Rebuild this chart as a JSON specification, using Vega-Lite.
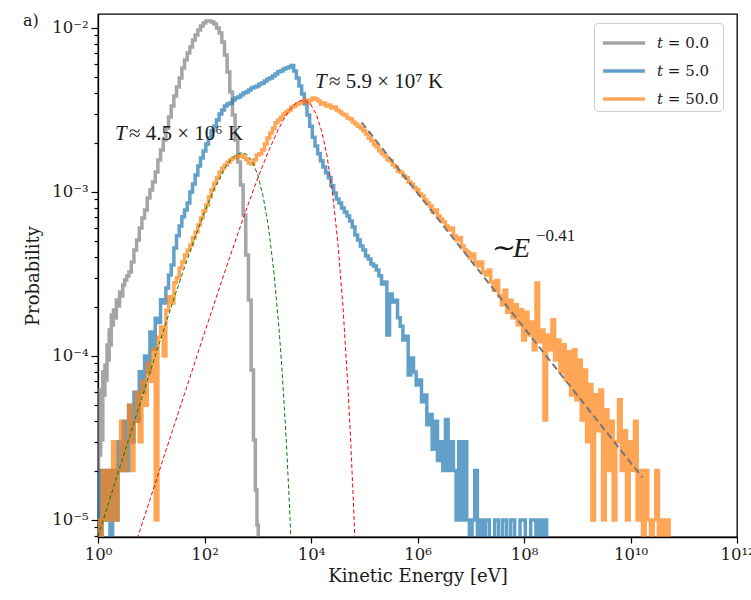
{
  "$schema": "https://vega.github.io/schema/vega-lite/v6.json",
  "width": 639,
  "height": 523,
  "autosize": "none",
  "padding": {"left": 98, "top": 14, "right": 14, "bottom": 63},
  "background": "white",
  "title": {"text": "a)", "anchor": "start", "frame": "group", "dx": -75, "dy": 28, "offset": 0, "baseline": "alphabetic", "font": "DejaVu Serif", "fontSize": 16, "fontWeight": "normal", "color": "#1a1a1a"},
  "datasets": {
    "t0": [{"E":1,"P":8.69e-6},{"E":1.047,"P":6.21e-5},{"E":1.096,"P":2.49e-5},{"E":1.148,"P":5.4e-5},{"E":1.202,"P":3.08e-5},{"E":1.259,"P":7.98e-5},{"E":1.318,"P":5.78e-5},{"E":1.38,"P":8.81e-5},{"E":1.445,"P":7.14e-5},{"E":1.514,"P":1.167e-4},{"E":1.585,"P":9.46e-5},{"E":1.66,"P":1.442e-4},{"E":1.738,"P":1.167e-4},{"E":1.82,"P":1.778e-4},{"E":1.905,"P":1.545e-4},{"E":1.995,"P":1.905e-4},{"E":2.138,"P":1.706e-4},{"E":2.291,"P":2.193e-4},{"E":2.455,"P":2.018e-4},{"E":2.63,"P":2.455e-4},{"E":2.818,"P":2.323e-4},{"E":3.02,"P":2.71e-4},{"E":3.311,"P":2.904e-4},{"E":3.631,"P":3.076e-4},{"E":3.981,"P":3.251e-4},{"E":4.467,"P":3.741e-4},{"E":5.012,"P":4.426e-4},{"E":5.623,"P":5.093e-4},{"E":6.31,"P":6.026e-4},{"E":7.079,"P":6.934e-4},{"E":7.943,"P":7.762e-4},{"E":8.913,"P":9.183e-4},{"E":10,"P":1.028e-3},{"E":11.22,"P":1.151e-3},{"E":12.59,"P":1.324e-3},{"E":14.13,"P":1.567e-3},{"E":15.85,"P":1.803e-3},{"E":17.78,"P":2.075e-3},{"E":19.95,"P":2.455e-3},{"E":22.39,"P":2.864e-3},{"E":25.12,"P":3.342e-3},{"E":28.18,"P":3.846e-3},{"E":31.62,"P":4.365e-3},{"E":35.48,"P":4.955e-3},{"E":39.81,"P":5.702e-3},{"E":44.67,"P":6.383e-3},{"E":50.12,"P":7.047e-3},{"E":56.23,"P":7.656e-3},{"E":63.1,"P":8.453e-3},{"E":70.79,"P":9.057e-3},{"E":79.43,"P":9.727e-3},{"E":89.13,"P":1.028e-2},{"E":100,"P":1.072e-2},{"E":112.2,"P":1.104e-2},{"E":125.9,"P":1.104e-2},{"E":141.3,"P":1.089e-2},{"E":158.5,"P":1.057e-2},{"E":177.8,"P":1.0e-2},{"E":199.5,"P":9.333e-3},{"E":223.9,"P":8.222e-3},{"E":251.2,"P":6.839e-3},{"E":281.8,"P":5.395e-3},{"E":316.2,"P":4.074e-3},{"E":354.8,"P":2.951e-3},{"E":398.1,"P":2.075e-3},{"E":446.7,"P":1.524e-3},{"E":501.2,"P":1.104e-3},{"E":562.3,"P":7.244e-4},{"E":631,"P":4.13e-4},{"E":707.9,"P":2.193e-4},{"E":794.3,"P":8.222e-5},{"E":871,"P":3.08e-5},{"E":933.3,"P":1.524e-5},{"E":1000,"P":9.33e-6},{"E":1047,"P":1e-6}],
    "t5": [{"E":1,"P":2e-5},{"E":1.122,"P":1e-6},{"E":1.259,"P":2e-5},{"E":1.413,"P":1e-5},{"E":1.585,"P":2e-5},{"E":1.778,"P":1e-6},{"E":1.995,"P":2e-5},{"E":2.239,"P":1e-5},{"E":2.512,"P":3e-5},{"E":2.818,"P":2e-5},{"E":3.162,"P":4e-5},{"E":3.548,"P":2e-5},{"E":3.981,"P":5e-5},{"E":4.467,"P":3e-5},{"E":5.012,"P":6e-5},{"E":5.623,"P":4e-5},{"E":6.31,"P":8e-5},{"E":7.079,"P":6e-5},{"E":7.943,"P":1e-4},{"E":8.913,"P":8e-5},{"E":10,"P":1.4e-4},{"E":11.22,"P":1.1e-4},{"E":12.59,"P":1.7e-4},{"E":14.13,"P":1.6e-4},{"E":15.85,"P":2.2e-4},{"E":17.78,"P":2.1e-4},{"E":19.95,"P":2.6e-4},{"E":22.39,"P":3.12e-4},{"E":25.12,"P":3.59e-4},{"E":28.18,"P":4.56e-4},{"E":31.62,"P":5.4e-4},{"E":35.48,"P":6.21e-4},{"E":39.81,"P":7.05e-4},{"E":44.67,"P":7.76e-4},{"E":50.12,"P":8.57e-4},{"E":56.23,"P":1e-3},{"E":63.1,"P":1.12e-3},{"E":70.79,"P":1.27e-3},{"E":79.43,"P":1.44e-3},{"E":89.13,"P":1.61e-3},{"E":100,"P":1.78e-3},{"E":112.2,"P":1.96e-3},{"E":125.9,"P":2.13e-3},{"E":141.3,"P":2.36e-3},{"E":158.5,"P":2.52e-3},{"E":177.8,"P":2.75e-3},{"E":199.5,"P":2.99e-3},{"E":223.9,"P":3.16e-3},{"E":251.2,"P":3.34e-3},{"E":281.8,"P":3.44e-3},{"E":316.2,"P":3.49e-3},{"E":354.8,"P":3.64e-3},{"E":398.1,"P":3.74e-3},{"E":446.7,"P":3.8e-3},{"E":501.2,"P":3.9e-3},{"E":562.3,"P":4.02e-3},{"E":631,"P":4.07e-3},{"E":707.9,"P":4.19e-3},{"E":794.3,"P":4.31e-3},{"E":891.3,"P":4.37e-3},{"E":1000,"P":4.43e-3},{"E":1122,"P":4.56e-3},{"E":1259,"P":4.62e-3},{"E":1413,"P":4.75e-3},{"E":1585,"P":4.89e-3},{"E":1778,"P":4.96e-3},{"E":1995,"P":5.1e-3},{"E":2239,"P":5.25e-3},{"E":2512,"P":5.4e-3},{"E":2818,"P":5.47e-3},{"E":3162,"P":5.62e-3},{"E":3548,"P":5.7e-3},{"E":3981,"P":5.78e-3},{"E":4467,"P":5.9e-3},{"E":5012,"P":5.47e-3},{"E":5623,"P":4.96e-3},{"E":6310,"P":4.43e-3},{"E":7079,"P":3.96e-3},{"E":7943,"P":3.44e-3},{"E":8913,"P":2.95e-3},{"E":10000,"P":2.52e-3},{"E":11220,"P":2.16e-3},{"E":12590,"P":1.91e-3},{"E":14130,"P":1.71e-3},{"E":15850,"P":1.55e-3},{"E":17780,"P":1.42e-3},{"E":19950,"P":1.31e-3},{"E":22390,"P":1.22e-3},{"E":25120,"P":1.09e-3},{"E":28180,"P":9.86e-4},{"E":31620,"P":9.06e-4},{"E":35480,"P":8.57e-4},{"E":39810,"P":7.98e-4},{"E":44670,"P":7.55e-4},{"E":50120,"P":7.14e-4},{"E":56230,"P":6.65e-4},{"E":63100,"P":6.12e-4},{"E":70790,"P":5.47e-4},{"E":79430,"P":5.1e-4},{"E":89130,"P":4.69e-4},{"E":100000,"P":4.43e-4},{"E":112200,"P":4.07e-4},{"E":125900,"P":3.9e-4},{"E":141300,"P":3.64e-4},{"E":158500,"P":3.54e-4},{"E":177800,"P":3.34e-4},{"E":199500,"P":3.08e-4},{"E":223900,"P":2.75e-4},{"E":251200,"P":2.82e-4},{"E":281800,"P":1.34e-4},{"E":316200,"P":2.39e-4},{"E":354800,"P":2.13e-4},{"E":398100,"P":2.19e-4},{"E":446700,"P":1.71e-4},{"E":501200,"P":1.52e-4},{"E":562300,"P":1.25e-4},{"E":631000,"P":1.32e-4},{"E":707900,"P":7.66e-5},{"E":794300,"P":9.73e-5},{"E":891300,"P":7.98e-5},{"E":1e6,"P":6.65e-5},{"E":1.122e6,"P":7.14e-5},{"E":1.259e6,"P":5.25e-5},{"E":1.413e6,"P":5.78e-5},{"E":1.585e6,"P":3.8e-5},{"E":1.778e6,"P":4.4e-5},{"E":1.995e6,"P":2.7e-5},{"E":2.239e6,"P":4e-5},{"E":2.512e6,"P":2.3e-5},{"E":2.818e6,"P":3e-5},{"E":3.162e6,"P":2e-5},{"E":3.548e6,"P":4.1e-5},{"E":3.981e6,"P":2e-5},{"E":4.467e6,"P":3e-5},{"E":5.012e6,"P":2e-5},{"E":5.623e6,"P":1e-5},{"E":6.31e6,"P":3e-5},{"E":7.079e6,"P":1e-5},{"E":7.943e6,"P":3e-5},{"E":8.913e6,"P":1e-5},{"E":1e7,"P":1e-6},{"E":1.122e7,"P":1e-5},{"E":1.259e7,"P":2e-5},{"E":1.413e7,"P":1e-6},{"E":1.585e7,"P":1e-5},{"E":1.778e7,"P":1e-6},{"E":1.995e7,"P":1e-5},{"E":2.512e7,"P":1e-6},{"E":3.162e7,"P":1e-5},{"E":3.548e7,"P":1e-6},{"E":4.467e7,"P":1e-5},{"E":5.012e7,"P":1e-6},{"E":6.31e7,"P":1e-5},{"E":7.079e7,"P":1e-6},{"E":1e8,"P":1e-5},{"E":1.122e8,"P":1e-6},{"E":1.585e8,"P":1e-5},{"E":1.778e8,"P":1e-6},{"E":1.995e8,"P":1e-5},{"E":2.239e8,"P":1e-6},{"E":2.512e8,"P":1e-5},{"E":2.818e8,"P":1e-6}],
    "t50": [{"E":1,"P":1e-5},{"E":1.122,"P":1e-6},{"E":1.259,"P":2e-5},{"E":1.413,"P":1e-5},{"E":1.585,"P":2e-5},{"E":1.778,"P":1e-5},{"E":1.995,"P":3e-5},{"E":2.239,"P":1e-5},{"E":2.512,"P":2e-5},{"E":2.818,"P":4e-5},{"E":3.162,"P":2e-5},{"E":3.548,"P":3e-5},{"E":3.981,"P":5e-5},{"E":4.467,"P":2e-5},{"E":5.012,"P":4e-5},{"E":5.623,"P":6e-5},{"E":6.31,"P":3e-5},{"E":7.079,"P":7e-5},{"E":7.943,"P":5e-5},{"E":8.913,"P":9e-5},{"E":10,"P":7e-5},{"E":11.22,"P":1.1e-4},{"E":12.59,"P":1e-5},{"E":14.13,"P":1.3e-4},{"E":15.85,"P":1.5e-4},{"E":17.78,"P":1e-4},{"E":19.95,"P":1.9e-4},{"E":22.39,"P":2.3e-4},{"E":25.12,"P":2.1e-4},{"E":28.18,"P":2.8e-4},{"E":31.62,"P":3e-4},{"E":35.48,"P":3.44e-4},{"E":39.81,"P":3.74e-4},{"E":44.67,"P":4.13e-4},{"E":50.12,"P":4.43e-4},{"E":56.23,"P":4.75e-4},{"E":63.1,"P":5.25e-4},{"E":70.79,"P":5.7e-4},{"E":79.43,"P":6.29e-4},{"E":89.13,"P":6.93e-4},{"E":100,"P":7.66e-4},{"E":112.2,"P":8.33e-4},{"E":125.9,"P":9.33e-4},{"E":141.3,"P":1.03e-3},{"E":158.5,"P":1.13e-3},{"E":177.8,"P":1.22e-3},{"E":199.5,"P":1.32e-3},{"E":223.9,"P":1.4e-3},{"E":251.2,"P":1.46e-3},{"E":281.8,"P":1.52e-3},{"E":316.2,"P":1.57e-3},{"E":354.8,"P":1.61e-3},{"E":398.1,"P":1.63e-3},{"E":446.7,"P":1.66e-3},{"E":501.2,"P":1.68e-3},{"E":562.3,"P":1.63e-3},{"E":631,"P":1.57e-3},{"E":707.9,"P":1.5e-3},{"E":794.3,"P":1.48e-3},{"E":891.3,"P":1.57e-3},{"E":1000,"P":1.68e-3},{"E":1122,"P":1.71e-3},{"E":1259,"P":1.8e-3},{"E":1413,"P":1.96e-3},{"E":1585,"P":2.13e-3},{"E":1778,"P":2.29e-3},{"E":1995,"P":2.45e-3},{"E":2239,"P":2.64e-3},{"E":2512,"P":2.75e-3},{"E":2818,"P":2.86e-3},{"E":3162,"P":2.99e-3},{"E":3548,"P":3.08e-3},{"E":3981,"P":3.16e-3},{"E":4467,"P":3.3e-3},{"E":5012,"P":3.34e-3},{"E":5623,"P":3.44e-3},{"E":6310,"P":3.49e-3},{"E":7079,"P":3.54e-3},{"E":7943,"P":3.64e-3},{"E":8913,"P":3.49e-3},{"E":10000,"P":3.64e-3},{"E":11220,"P":3.74e-3},{"E":12590,"P":3.69e-3},{"E":14130,"P":3.59e-3},{"E":15850,"P":3.44e-3},{"E":17780,"P":3.49e-3},{"E":19950,"P":3.34e-3},{"E":22390,"P":3.39e-3},{"E":25120,"P":3.25e-3},{"E":28180,"P":3.3e-3},{"E":31620,"P":3.16e-3},{"E":35480,"P":3.08e-3},{"E":39810,"P":2.99e-3},{"E":44670,"P":2.95e-3},{"E":50120,"P":2.83e-3},{"E":56230,"P":2.79e-3},{"E":63100,"P":2.67e-3},{"E":70790,"P":2.6e-3},{"E":79430,"P":2.52e-3},{"E":89130,"P":2.45e-3},{"E":100000,"P":2.36e-3},{"E":112200,"P":2.26e-3},{"E":125900,"P":2.13e-3},{"E":141300,"P":2.05e-3},{"E":158500,"P":1.94e-3},{"E":177800,"P":1.88e-3},{"E":199500,"P":1.78e-3},{"E":223900,"P":1.71e-3},{"E":251200,"P":1.66e-3},{"E":281800,"P":1.57e-3},{"E":316200,"P":1.55e-3},{"E":354800,"P":1.46e-3},{"E":398100,"P":1.42e-3},{"E":446700,"P":1.34e-3},{"E":501200,"P":1.32e-3},{"E":562300,"P":1.25e-3},{"E":631000,"P":1.22e-3},{"E":707900,"P":1.15e-3},{"E":794300,"P":1.12e-3},{"E":891300,"P":1.06e-3},{"E":1e6,"P":1.03e-3},{"E":1.122e6,"P":9.73e-4},{"E":1.259e6,"P":9.46e-4},{"E":1.413e6,"P":8.93e-4},{"E":1.585e6,"P":8.57e-4},{"E":1.778e6,"P":8.22e-4},{"E":1.995e6,"P":7.55e-4},{"E":2.239e6,"P":7.76e-4},{"E":2.512e6,"P":7.14e-4},{"E":2.818e6,"P":6.84e-4},{"E":3.162e6,"P":6.56e-4},{"E":3.548e6,"P":6.21e-4},{"E":3.981e6,"P":5.86e-4},{"E":4.467e6,"P":6.03e-4},{"E":5.012e6,"P":5.4e-4},{"E":5.623e6,"P":5.1e-4},{"E":6.31e6,"P":5.25e-4},{"E":7.079e6,"P":4.69e-4},{"E":7.943e6,"P":4.43e-4},{"E":8.913e6,"P":4.31e-4},{"E":1e7,"P":3.96e-4},{"E":1.122e7,"P":4.19e-4},{"E":1.259e7,"P":3.74e-4},{"E":1.413e7,"P":3.54e-4},{"E":1.585e7,"P":3.74e-4},{"E":1.778e7,"P":3.25e-4},{"E":1.995e7,"P":3.12e-4},{"E":2.239e7,"P":3.34e-4},{"E":2.512e7,"P":2.82e-4},{"E":2.818e7,"P":2.52e-4},{"E":3.162e7,"P":2.89e-4},{"E":3.548e7,"P":2.32e-4},{"E":3.981e7,"P":2.05e-4},{"E":4.467e7,"P":2.52e-4},{"E":5.012e7,"P":1.85e-4},{"E":5.623e7,"P":2.19e-4},{"E":6.31e7,"P":1.71e-4},{"E":7.079e7,"P":2.05e-4},{"E":7.943e7,"P":1.55e-4},{"E":8.913e7,"P":1.91e-4},{"E":1e8,"P":1.25e-4},{"E":1.122e8,"P":1.85e-4},{"E":1.259e8,"P":1.34e-4},{"E":1.413e8,"P":1.61e-4},{"E":1.585e8,"P":1.09e-4},{"E":1.778e8,"P":2.79e-4},{"E":1.995e8,"P":1.22e-4},{"E":2.239e8,"P":1.44e-4},{"E":2.512e8,"P":4.07e-5},{"E":2.818e8,"P":1.34e-4},{"E":3.162e8,"P":1.09e-4},{"E":3.548e8,"P":1.66e-4},{"E":3.981e8,"P":9.46e-5},{"E":4.467e8,"P":1.25e-4},{"E":5.012e8,"P":7.98e-5},{"E":5.623e8,"P":1.17e-4},{"E":6.31e8,"P":7.14e-5},{"E":7.079e8,"P":1.06e-4},{"E":7.943e8,"P":5.78e-5},{"E":8.913e8,"P":1.09e-4},{"E":1e9,"P":5.4e-5},{"E":1.122e9,"P":9.46e-5},{"E":1.259e9,"P":4.07e-5},{"E":1.413e9,"P":8.2e-5},{"E":1.585e9,"P":3e-5},{"E":1.778e9,"P":6.7e-5},{"E":1.995e9,"P":1e-5},{"E":2.239e9,"P":5.8e-5},{"E":2.512e9,"P":3.5e-5},{"E":2.818e9,"P":6.2e-5},{"E":3.162e9,"P":1e-5},{"E":3.548e9,"P":4.7e-5},{"E":3.981e9,"P":2e-5},{"E":4.467e9,"P":4e-5},{"E":5.012e9,"P":1e-5},{"E":5.623e9,"P":3e-5},{"E":6.31e9,"P":5.4e-5},{"E":7.079e9,"P":2e-5},{"E":7.943e9,"P":3.5e-5},{"E":8.913e9,"P":1e-5},{"E":1e10,"P":3e-5},{"E":1.122e10,"P":2e-5},{"E":1.259e10,"P":4e-5},{"E":1.413e10,"P":1e-5},{"E":1.585e10,"P":2e-5},{"E":1.778e10,"P":1e-6},{"E":1.995e10,"P":2e-5},{"E":2.239e10,"P":1e-5},{"E":2.512e10,"P":1e-6},{"E":2.818e10,"P":1e-5},{"E":3.162e10,"P":2e-5},{"E":3.548e10,"P":1e-6},{"E":3.981e10,"P":1e-5},{"E":4.467e10,"P":1e-6},{"E":5.012e10,"P":1e-5},{"E":5.623e10,"P":1e-6}],
    "fitLow": [{"E":1,"P":7.92e-6},{"E":1.585,"P":1.274e-5},{"E":2.512,"P":2.046e-5},{"E":3.981,"P":3.281e-5},{"E":6.31,"P":5.26e-5},{"E":10,"P":8.395e-5},{"E":15.85,"P":1.334e-4},{"E":25.12,"P":2.109e-4},{"E":39.81,"P":3.289e-4},{"E":63.1,"P":5.047e-4},{"E":100,"P":7.516e-4},{"E":158.5,"P":1.074e-3},{"E":251.2,"P":1.426e-3},{"E":316.2,"P":1.581e-3},{"E":398.1,"P":1.694e-3},{"E":501.2,"P":1.738e-3},{"E":631,"P":1.69e-3},{"E":794.3,"P":1.531e-3},{"E":1000,"P":1.271e-3},{"E":1259,"P":9.441e-4},{"E":1585,"P":6.124e-4},{"E":1995,"P":3.334e-4},{"E":2512,"P":1.459e-4},{"E":2818,"P":8.75e-5},{"E":3162,"P":4.842e-5},{"E":3548,"P":2.466e-5},{"E":3981,"P":1.135e-5},{"E":4467,"P":4.7e-6}],
    "fitHigh": [{"E":5.012,"P":7.063e-6},{"E":6.31,"P":8.892e-6},{"E":10,"P":1.406e-5},{"E":15.85,"P":2.228e-5},{"E":25.12,"P":3.524e-5},{"E":39.81,"P":5.559e-5},{"E":63.1,"P":8.77e-5},{"E":100,"P":1.384e-4},{"E":158.5,"P":2.173e-4},{"E":251.2,"P":3.396e-4},{"E":398.1,"P":5.26e-4},{"E":631,"P":8.072e-4},{"E":1000,"P":1.213e-3},{"E":1585,"P":1.77e-3},{"E":2512,"P":2.455e-3},{"E":3162,"P":2.818e-3},{"E":3981,"P":3.162e-3},{"E":5012,"P":3.443e-3},{"E":6310,"P":3.606e-3},{"E":7943,"P":3.606e-3},{"E":10000,"P":3.396e-3},{"E":12590,"P":2.965e-3},{"E":15850,"P":2.36e-3},{"E":19950,"P":1.663e-3},{"E":25120,"P":1.012e-3},{"E":31620,"P":5.093e-4},{"E":39810,"P":2.018e-4},{"E":50120,"P":5.943e-5},{"E":56230,"P":2.818e-5},{"E":63100,"P":1.202e-5},{"E":70790,"P":4.56e-6}],
    "power": [{"E":89130,"P":2.661e-3},{"E":1.66e10,"P":1.82e-5}],
    "notes": [
      {"E":2.085,"P":2.075e-3,"kind":"temp","sym":"T","rest":"≈ 4.5 × 10⁶ K"},
      {"E":11885,"P":4.29e-3,"kind":"temp","sym":"T","rest":"≈ 5.9 × 10⁷ K"},
      {"E":2.301e7,"P":4.018e-4,"kind":"power","sym":"∼E","rest":"−0.41"}
    ]
  },
  "encoding": {
    "x": {"field": "E", "type": "quantitative", "scale": {"type": "log", "domain": [1, 1e12], "nice": false},
      "axis": {"values": [1, 100, 10000, 1000000, 100000000, 10000000000, 1000000000000], "labelExpr": "'10' + ['⁰','¹','²','³','⁴','⁵','⁶','⁷','⁸','⁹','¹⁰','¹¹','¹²'][round(log(datum.value)/LN10)]", "tickSize": 6, "labelPadding": 3, "labelFlush": false, "labelOverlap": false, "title": "Kinetic Energy [eV]", "titlePadding": 5}},
    "y": {"field": "P", "type": "quantitative", "scale": {"type": "log", "domain": [7.87e-6, 0.01217], "nice": false}, "axis": null}
  },
  "layer": [
    {
      "data": {"name": "t0"},
      "mark": {"type": "line", "interpolate": "step", "strokeWidth": 3.5, "opacity": 0.7, "clip": true},
      "encoding": {
        "y": {"field": "P", "type": "quantitative", "scale": {"type": "log", "domain": [7.87e-6, 0.01217], "nice": false},
          "axis": {"values": [0.00001, 0.0001, 0.001, 0.01], "labelExpr": "'10' + ['⁰','⁻¹','⁻²','⁻³','⁻⁴','⁻⁵','⁻⁶'][-round(log(datum.value)/LN10)]", "tickSize": 7, "labelPadding": 3, "title": "Probability", "titlePadding": 9}},
        "color": {"datum": "𝑡 = 0.0", "scale": {"domain": ["𝑡 = 0.0", "𝑡 = 5.0", "𝑡 = 50.0"], "range": ["#7f7f7f", "#1f77b4", "#ff7f0e"]}, "legend": {"title": null, "orient": "none", "legendX": 496, "legendY": 9}}
      }
    },
    {
      "data": {"name": "t5"},
      "mark": {"type": "line", "interpolate": "step", "strokeWidth": 3.5, "opacity": 0.7, "clip": true},
      "encoding": {
        "color": {"datum": "𝑡 = 5.0", "scale": {"domain": ["𝑡 = 0.0", "𝑡 = 5.0", "𝑡 = 50.0"], "range": ["#7f7f7f", "#1f77b4", "#ff7f0e"]}, "legend": {"title": null, "orient": "none", "legendX": 496, "legendY": 9}}
      }
    },
    {
      "data": {"name": "t50"},
      "mark": {"type": "line", "interpolate": "step", "strokeWidth": 3.5, "opacity": 0.7, "clip": true},
      "encoding": {
        "color": {"datum": "𝑡 = 50.0", "scale": {"domain": ["𝑡 = 0.0", "𝑡 = 5.0", "𝑡 = 50.0"], "range": ["#7f7f7f", "#1f77b4", "#ff7f0e"]}, "legend": {"title": null, "orient": "none", "legendX": 496, "legendY": 9}}
      }
    },
    {
      "data": {"name": "fitLow"},
      "mark": {"type": "line", "color": "green", "strokeWidth": 1, "strokeDash": [4, 2.5], "clip": true},
      "encoding": {
        "y": {"field": "P", "type": "quantitative", "scale": {"type": "log", "domain": [7.87e-6, 0.01217], "nice": false},
          "axis": {"orient": "left", "values": [0.000008, 0.000009, 0.00002, 0.00003, 0.00004, 0.00005, 0.00006, 0.00007, 0.00008, 0.00009, 0.0002, 0.0003, 0.0004, 0.0005, 0.0006, 0.0007, 0.0008, 0.0009, 0.002, 0.003, 0.004, 0.005, 0.006, 0.007, 0.008, 0.009], "labels": false, "domain": false, "tickSize": 4, "title": null}}
      }
    },
    {
      "data": {"name": "fitHigh"},
      "mark": {"type": "line", "color": "red", "strokeWidth": 1, "strokeDash": [4, 2.5], "clip": true},
      "encoding": {}
    },
    {
      "data": {"name": "power"},
      "mark": {"type": "line", "color": "#777777", "strokeWidth": 2, "strokeDash": [7, 4], "clip": true},
      "encoding": {}
    },
    {
      "data": {"name": "notes"},
      "transform": [{"filter": "datum.kind == 'temp'"}],
      "mark": {"type": "text", "align": "left", "baseline": "alphabetic", "font": "Liberation Serif", "fontSize": 21, "fontStyle": "italic", "color": "#1a1a1a"},
      "encoding": {"text": {"field": "sym"}}
    },
    {
      "data": {"name": "notes"},
      "transform": [{"filter": "datum.kind == 'temp'"}],
      "mark": {"type": "text", "align": "left", "baseline": "alphabetic", "font": "Liberation Serif", "fontSize": 21, "dx": 14, "color": "#1a1a1a"},
      "encoding": {"text": {"field": "rest"}}
    },
    {
      "data": {"name": "notes"},
      "transform": [{"filter": "datum.kind == 'power'"}],
      "mark": {"type": "text", "align": "left", "baseline": "alphabetic", "font": "Liberation Serif", "fontSize": 28, "fontStyle": "italic", "color": "#1a1a1a"},
      "encoding": {"text": {"field": "sym"}}
    },
    {
      "data": {"name": "notes"},
      "transform": [{"filter": "datum.kind == 'power'"}],
      "mark": {"type": "text", "align": "left", "baseline": "alphabetic", "font": "Liberation Serif", "fontSize": 17, "dx": 46, "dy": -16, "color": "#1a1a1a"},
      "encoding": {"text": {"field": "rest"}}
    }
  ],
  "resolve": {"axis": {"y": "independent"}},
  "config": {
    "view": {"stroke": "black", "strokeWidth": 1.3},
    "axis": {"labelFont": "DejaVu Serif", "titleFont": "DejaVu Serif", "labelFontSize": 16.5, "titleFontSize": 18, "titleFontWeight": "normal", "labelColor": "#1a1a1a", "titleColor": "#1a1a1a", "tickColor": "black", "domainColor": "black", "domainWidth": 1.3, "tickWidth": 1.2, "grid": false},
    "legend": {"symbolType": "M-1.5,0H1.5", "symbolSize": 784, "symbolStrokeWidth": 3.5, "symbolOpacity": 0.7, "symbolOffset": 10, "labelFont": "DejaVu Serif", "labelFontSize": 15, "labelColor": "#1a1a1a", "labelOffset": 17, "padding": 4, "rowPadding": 4, "strokeColor": "#cccccc", "fillColor": "white", "cornerRadius": 4}
  }
}
